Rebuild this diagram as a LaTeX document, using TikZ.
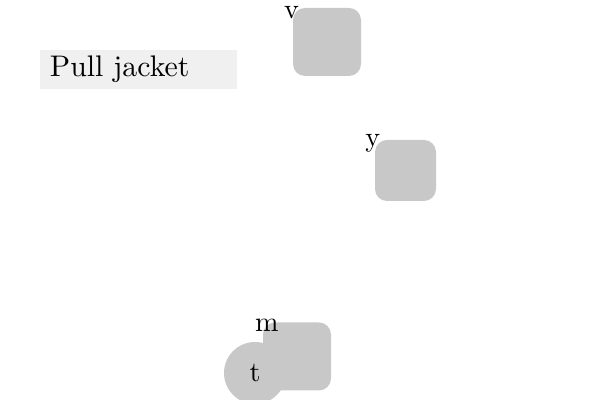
\documentclass[tikz,border=0pt]{standalone}
\usepackage{fontspec}
\setmainfont{lmroman10-regular.otf}
\usepackage{tikz}

\begin{document}
\begin{tikzpicture}[scale=1]
\definecolor{boxgray}{RGB}{200,200,200}
\definecolor{notegray}{RGB}{240,240,240}
\tikzset{
  sq/.style={fill=boxgray, rounded corners=0.3cm, inner sep=0pt},
  lbl/.style={inner sep=0pt, font=\fontsize{20}{23}\selectfont}
}
\useasboundingbox (0,0) rectangle (15,10);

% ======================= Titel =======================
\node[fill=notegray, minimum width=4.925cm, minimum height=0.975cm, inner sep=0pt,
      text width=4.425cm, align=left, font=\fontsize{21.2}{25}\selectfont]
  (title) at (3.4625,8.2625) {Pull jacket};

% ======================= Quadrate =======================
\node[sq, minimum size=1.7cm] (v) at (8.175,8.95) {};
\node[lbl] (vlab) at ([xshift=-0.03cm, yshift=-0.12cm]v.north west) {v};

\node[sq, minimum size=1.525cm] (y) at (10.1375,5.7375) {};
\node[lbl] (ylab) at ([xshift=-0.05cm, yshift=-0.1cm]y.north west) {y};

\node[sq, minimum size=1.7cm] (m) at (7.425,1.0875) {};
\node[lbl] (mlab) at ([xshift=0.1cm, yshift=-0.08cm]m.north west) {m};

% Kreis unten links
\node[circle, fill=boxgray, minimum size=1.55cm, inner sep=0pt, lbl] (t) at (6.375,0.675) {t};

\end{tikzpicture}
\end{document}
